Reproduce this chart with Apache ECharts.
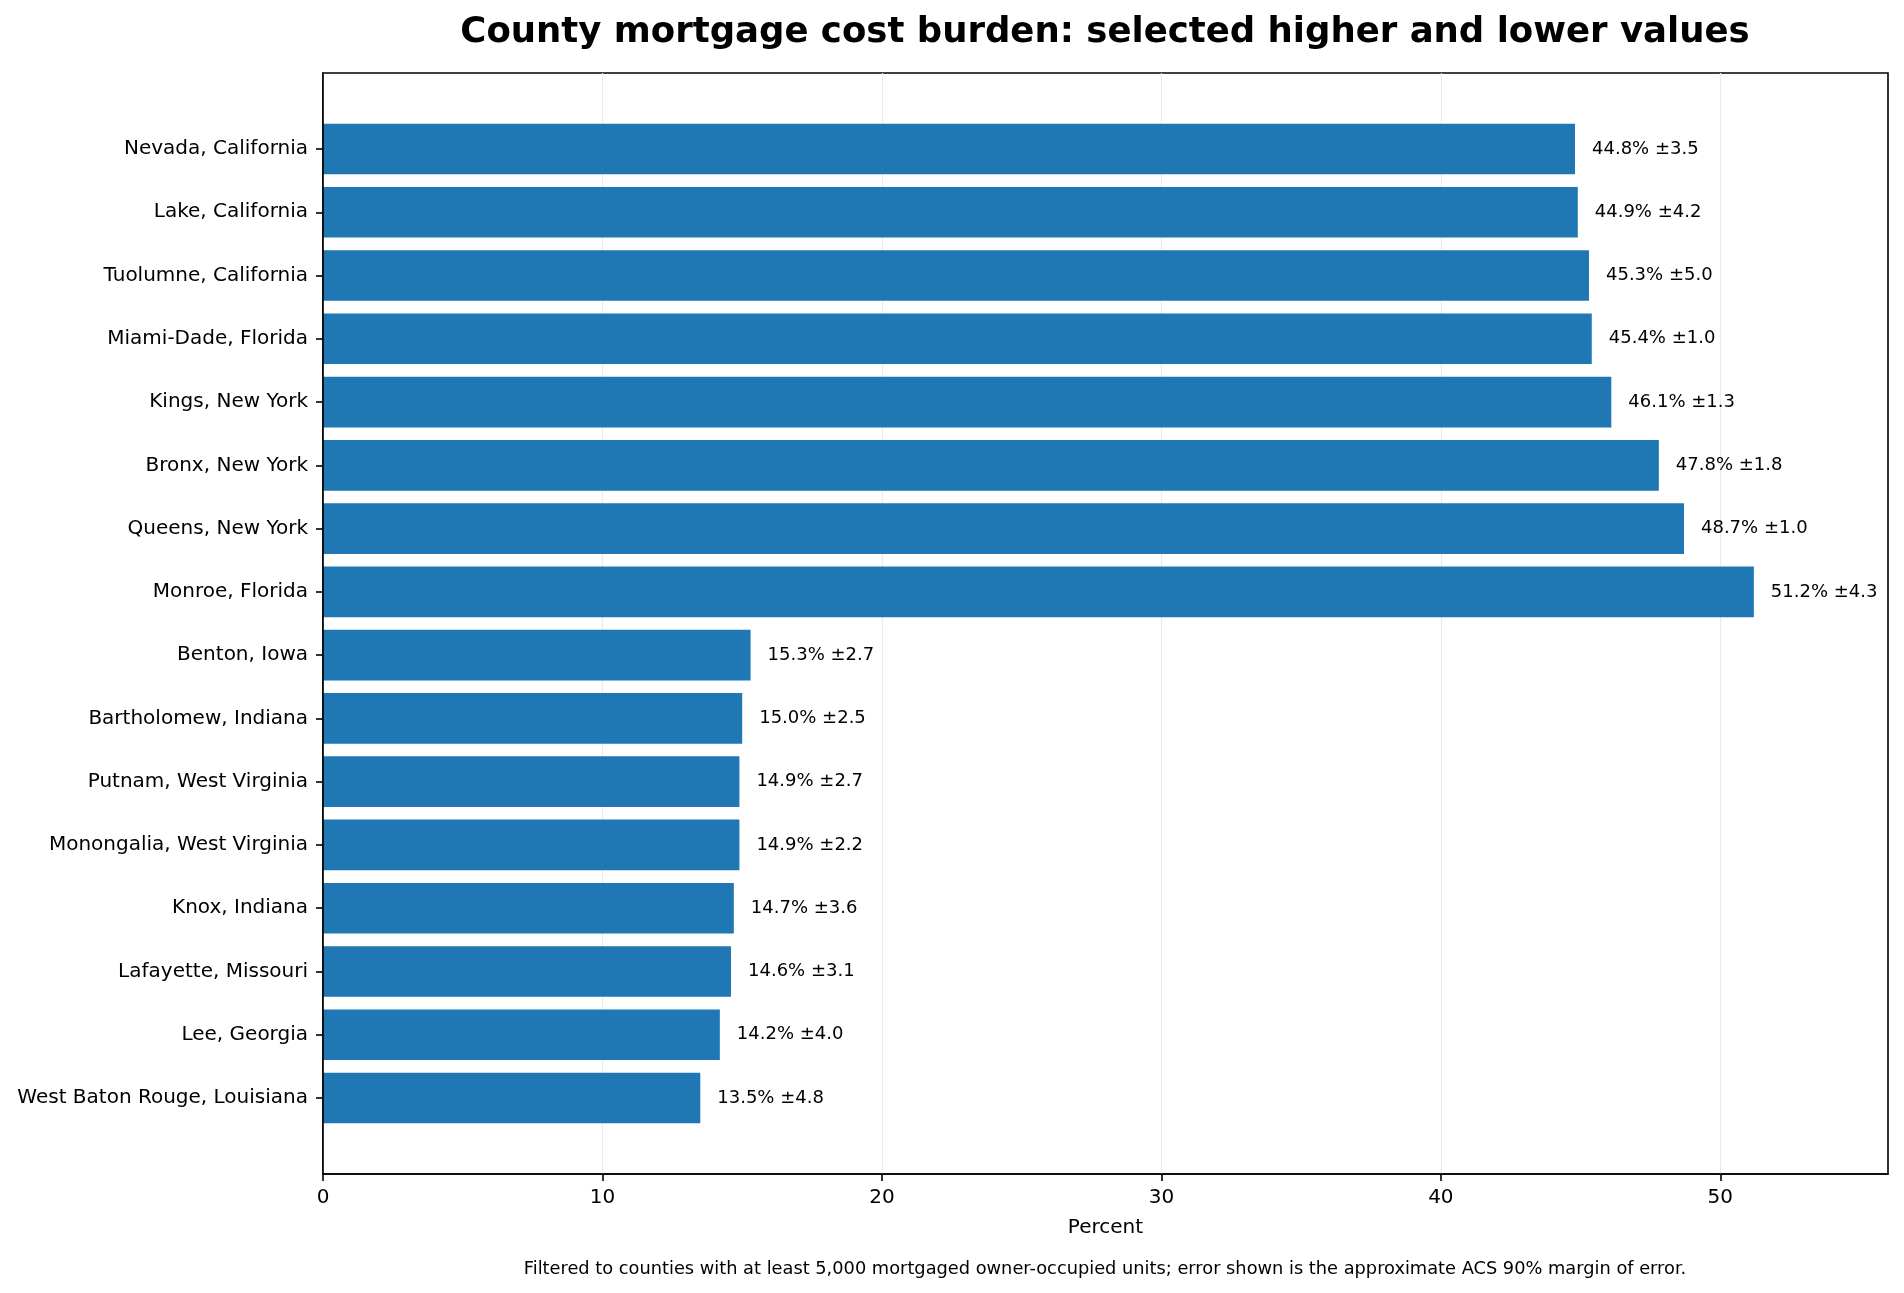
<!DOCTYPE html>
<html>
<head>
<meta charset="utf-8">
<script src="https://cdn.jsdelivr.net/npm/echarts@6/dist/echarts.min.js"></script>
<style>
  html, body { margin: 0; padding: 0; background: #fff; }
  #chart { width: 1904px; height: 1293px; }
</style>
</head>
<body>
<div id="chart"></div>
<script>
let counties = ['Nevada, California', 'Lake, California', 'Tuolumne, California', 'Miami-Dade, Florida',
  'Kings, New York', 'Bronx, New York', 'Queens, New York', 'Monroe, Florida', 'Benton, Iowa',
  'Bartholomew, Indiana', 'Putnam, West Virginia', 'Monongalia, West Virginia', 'Knox, Indiana',
  'Lafayette, Missouri', 'Lee, Georgia', 'West Baton Rouge, Louisiana']
let percents = [44.8, 44.9, 45.3, 45.4, 46.1, 47.8, 48.7, 51.2, 15.3, 15.0, 14.9, 14.9, 14.7, 14.6, 14.2, 13.5]
let margins = [3.5, 4.2, 5.0, 1.0, 1.3, 1.8, 1.0, 4.3, 2.7, 2.5, 2.7, 2.2, 3.6, 3.1, 4.0, 4.8]
let xTicks = [0, 10, 20, 30, 40, 50]

let chart = echarts.init(document.getElementById('chart'))
let font = 'DejaVu Sans'

chart.setOption({
  animation: false,
  textStyle: { fontFamily: font },
  title: [
    {
      text: 'County mortgage cost burden: selected higher and lower values',
      left: 1100, top: 10, textAlign: 'center',
      textStyle: { fontFamily: font, fontSize: 35.5, fontWeight: 'bold', color: '#000' }
    },
    {
      text: 'Filtered to counties with at least 5,000 mortgaged owner-occupied units; error shown is the approximate ACS 90% margin of error.',
      left: 1100, top: 1255, textAlign: 'center',
      textStyle: { fontFamily: font, fontSize: 17.8, fontWeight: 'normal', color: '#000' }
    }
  ],
  grid: [
    // frame with the x axis and gridlines
    { left: 323, right: 16, top: 73, bottom: 119, show: true, borderColor: '#000', borderWidth: 1.6, backgroundColor: 'transparent' },
    // bars, padded inside the frame
    { left: 323, right: 16, top: 117.4, bottom: 163.4 }
  ],
  xAxis: [
    {
      gridIndex: 0, type: 'value', min: 0, max: 56, interval: 10,
      name: 'Percent', nameLocation: 'middle', nameGap: 44,
      nameTextStyle: { fontFamily: font, fontSize: 20, color: '#000' },
      axisLine: { show: true, lineStyle: { color: '#000', width: 1.6 } },
      axisTick: { show: true, length: 7, lineStyle: { color: '#000', width: 1.6 },
        customValues: xTicks },
      axisLabel: { fontFamily: font, fontSize: 20, color: '#000', margin: 14,
        customValues: xTicks },
      splitLine: { show: true, lineStyle: { color: '#ebebeb', width: 1.2 } }
    },
    {
      gridIndex: 1, type: 'value', min: 0, max: 56, show: false,
      splitLine: { show: false }
    }
  ],
  yAxis: [
    {
      gridIndex: 0, type: 'value', z: 3,
      axisLine: { show: true, lineStyle: { color: '#000', width: 1.6 } },
      axisTick: { show: false }, axisLabel: { show: false }, splitLine: { show: false }
    },
    {
      gridIndex: 1, type: 'category', data: counties, inverse: true,
      axisLine: { show: false },
      axisTick: { show: true, length: 7, alignWithLabel: true, lineStyle: { color: '#000', width: 1.6 } },
      axisLabel: { fontFamily: font, fontSize: 20, color: '#000', margin: 15, padding: [5, 0, 0, 0] }
    }
  ],
  series: [
    {
      type: 'bar', xAxisIndex: 1, yAxisIndex: 1,
      data: percents,
      barWidth: '80%',
      itemStyle: { color: '#1f77b4' },
      label: {
        show: true, position: 'right', distance: 17,
        fontFamily: font, fontSize: 18, color: '#000',
        formatter: function (p) {
          return percents[p.dataIndex].toFixed(1) + '% \u00b1' + margins[p.dataIndex].toFixed(1)
        }
      }
    }
  ]
})
</script>
</body>
</html>
